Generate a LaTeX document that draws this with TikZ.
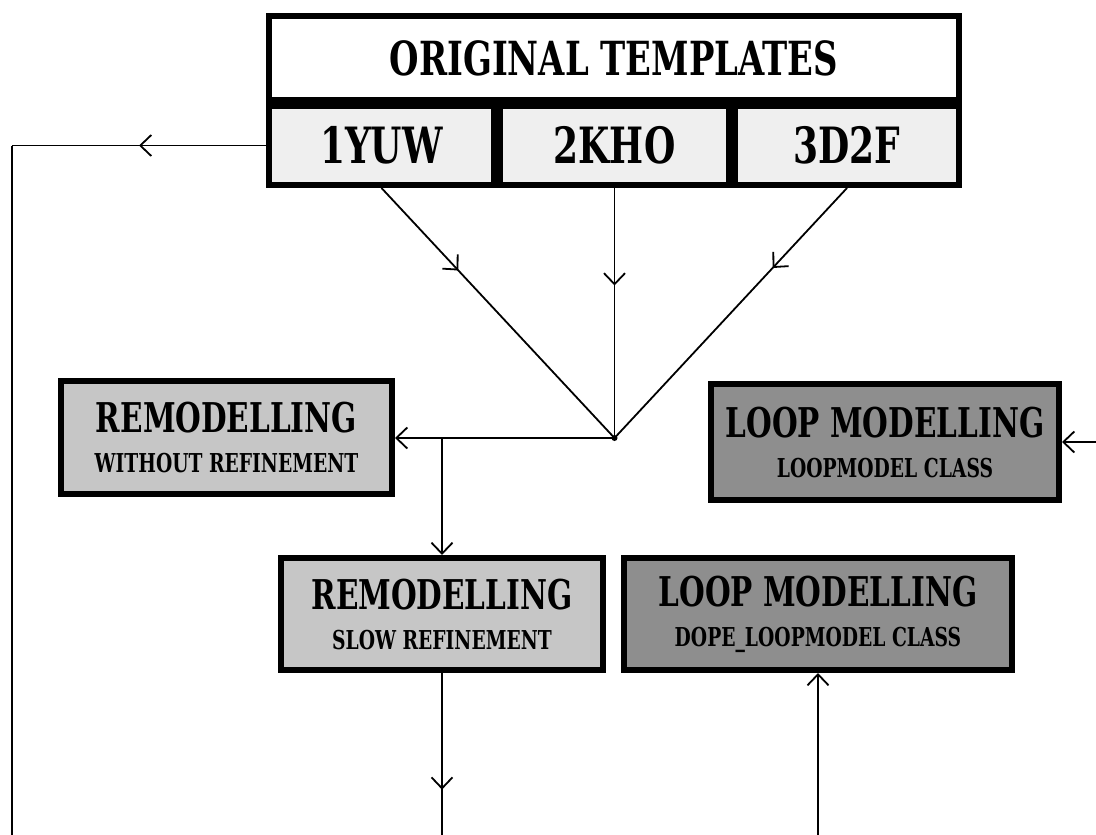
\documentclass[tikz,border=0pt]{standalone}
\usepackage{fontspec}
\setmainfont{DejaVu Serif}[FakeStretch=0.72]
\usetikzlibrary{arrows.meta,decorations.markings}

\definecolor{cellgray}{HTML}{EFEFEF}
\definecolor{remgray}{HTML}{C6C6C6}
\definecolor{loopgray}{HTML}{8E8E8E}

\newcommand{\bigline}{\fontsize{41}{48}\selectfont}
\newcommand{\subline}[1]{{\fontsize{26}{30}\selectfont #1}}

\tikzset{
  box/.style={draw, line width=6pt, inner sep=0pt, align=center,
    font=\bfseries\bigline},
  tmpl/.style={box, fill=cellgray, minimum height=79pt,
    font=\bfseries\fontsize{50}{58}\selectfont},
  rembox/.style={box, fill=remgray},
  loopbox/.style={box, fill=loopgray},
  conn/.style={line width=1.8pt},
  midarrow/.style={postaction={decorate}, decoration={markings,
    mark=at position #1 with {\arrow{>}}}},
  midarrow/.default=0.5
}

\begin{document}
\begin{tikzpicture}[x=1pt,y=-1pt,>={Straight Barb[length=11pt,width=21pt]}]
    \useasboundingbox (0,0) rectangle (1096,835);
    \coordinate (bot) at (0,835);

    % templates
    \node[box, fill=white, minimum width=690pt, minimum height=84pt,
      font=\bfseries\fontsize{47}{55}\selectfont] (orig) at (614,58) {ORIGINAL TEMPLATES};
    \node[tmpl, minimum width=225pt] (t1) at (381.5,145.5) {1YUW};
    \node[tmpl, minimum width=229pt] (t2) at (614.5,145.5) {2KHO};
    \node[tmpl, minimum width=224pt] (t3) at (847,145.5) {3D2F};

    % modelling boxes
    \node[rembox, minimum width=331pt, minimum height=113pt] (remwo) at (226.5,437.5)
      {REMODELLING\\[-8pt]\subline{WITHOUT REFINEMENT}};
    \node[loopbox, minimum width=348pt, minimum height=116pt] (loopm) at (885,442)
      {LOOP MODELLING\\[-8pt]\subline{LOOPMODEL CLASS}};
    \node[rembox, minimum width=322pt, minimum height=112pt] (remslow) at (442,614)
      {REMODELLING\\[-8pt]\subline{SLOW REFINEMENT}};
    \node[loopbox, minimum width=388pt, minimum height=112pt] (loopdope) at (818,614)
      {LOOP MODELLING\\[-8pt]\subline{DOPE\_LOOPMODEL CLASS}};

    % junction
    \coordinate (junc) at (t2.south |- 0,438);
    \fill (junc) circle (3pt);

    \draw[conn, midarrow=0.33] (t1.south) -- (junc);
    \draw[conn, midarrow=0.39] (t2.south) -- (junc);
    \draw[conn, midarrow=0.32] (t3.south) -- (junc);

    \draw[conn, ->] (junc) -- (junc -| remwo.east);
    \draw[conn, ->] (remslow.north |- junc) -- (remslow.north);
    \draw[conn, midarrow=0.72] (remslow.south) -- (remslow.south |- bot);
    \draw[conn, ->] (loopdope.south |- bot) -- (loopdope.south);
    \draw[conn, ->] (loopm.east -| 1096,0) -- (loopm.east);

    % feedback line on the left
    \coordinate (lcorner) at (12,0 |- t1.west);
    \draw[conn, midarrow] (t1.west) -- (lcorner);
    \draw[conn] (lcorner) -- (lcorner |- bot);
\end{tikzpicture}
\end{document}
